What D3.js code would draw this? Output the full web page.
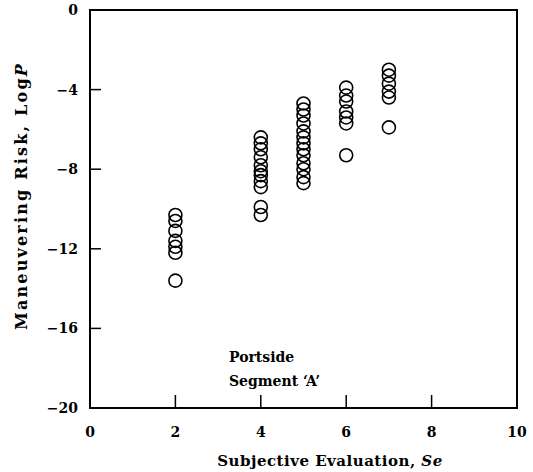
<!DOCTYPE html>
<html><head><meta charset="utf-8">
<script src="https://cdn.jsdelivr.net/npm/d3@7"></script>
<style>body{margin:0;background:#fff}</style>
</head><body>
<svg id="c" width="533" height="472"></svg>
<script>
const se = [2,2,2,2,2,2,2, 4,4,4,4,4,4,4,4,4,4,4, 5,5,5,5,5,5,5,5,5,5,5,5,5, 6,6,6,6,6,6,6, 7,7,7,7,7,7];
const logP = [-10.3,-10.6,-11.1,-11.6,-11.9,-12.2,-13.6,
  -6.4,-6.7,-7.0,-7.4,-7.8,-8.1,-8.3,-8.6,-8.9,-9.9,-10.3,
  -4.7,-5.0,-5.3,-5.7,-6.1,-6.4,-6.7,-7.0,-7.3,-7.7,-8.0,-8.4,-8.7,
  -3.9,-4.3,-4.6,-5.1,-5.4,-5.7,-7.3,
  -3.0,-3.3,-3.7,-4.1,-4.4,-5.9];
const xTicks = [0,2,4,6,8,10];
const yTicks = [0,-4,-8,-12,-16,-20];
const xTitle = ["Subjective Evaluation, ", "Se"];
const yTitle = ["Maneuvering Risk, Log", "P"];
const note = ["Portside", "Segment \u2018A\u2019"];

const svg = d3.select("#c");
const font = "'DejaVu Serif', 'Liberation Serif', serif";
const L=90, R=517, T=10, B=408;
const x = d3.scaleLinear().domain([0,10]).range([L,R]);
const y = d3.scaleLinear().domain([-20,0]).range([B,T]);

// frame
svg.append("rect").attr("x",L).attr("y",T).attr("width",R-L).attr("height",B-T)
  .attr("fill","none").attr("stroke","#000").attr("stroke-width",2);

// inward ticks
svg.append("g").selectAll("line").data(yTicks.filter(d=>d!==0&&d!==-20)).join("line")
  .attr("x1",L).attr("x2",L+11).attr("y1",d=>y(d)).attr("y2",d=>y(d))
  .attr("stroke","#000").attr("stroke-width",1.5);
svg.append("g").selectAll("line").data(xTicks.filter(d=>d!==0&&d!==10)).join("line")
  .attr("x1",d=>x(d)).attr("x2",d=>x(d)).attr("y1",B).attr("y2",B-13)
  .attr("stroke","#000").attr("stroke-width",1.5);

// tick labels
svg.append("g").selectAll("text").data(yTicks).join("text")
  .attr("x",78).attr("y",d=>y(d)+5).attr("text-anchor","end")
  .attr("font-family",font).attr("font-weight","bold").attr("font-size",14)
  .text(d=>d<0?"\u2212"+Math.abs(d):d);
svg.append("g").selectAll("text").data(xTicks).join("text")
  .attr("x",d=>x(d)).attr("y",437).attr("text-anchor","middle")
  .attr("font-family",font).attr("font-weight","bold").attr("font-size",14)
  .text(d=>d);

// titles
const xt = svg.append("text").attr("x",330).attr("y",466).attr("text-anchor","middle")
  .attr("font-family",font).attr("font-weight","bold").attr("font-size",15)
  .attr("letter-spacing",0.5);
xt.append("tspan").text(xTitle[0]);
xt.append("tspan").attr("font-style","italic").text(xTitle[1]);
const yt = svg.append("text").attr("transform","translate(27,196) rotate(-90)").attr("text-anchor","middle")
  .attr("font-family",font).attr("font-weight","bold").attr("font-size",16)
  .attr("letter-spacing",2.2);
yt.append("tspan").text(yTitle[0]);
yt.append("tspan").attr("font-style","italic").text(yTitle[1]);

// note
svg.append("g").selectAll("text").data(note).join("text")
  .attr("x",229).attr("y",(d,i)=>362+i*24)
  .attr("font-family",font).attr("font-weight","bold").attr("font-size",14)
  .text(d=>d);

// points
svg.append("g").selectAll("circle").data(se.map((s,i)=>[s,logP[i]])).join("circle")
  .attr("cx",d=>x(d[0])).attr("cy",d=>y(d[1])).attr("r",6.5)
  .attr("fill","none").attr("stroke","#000").attr("stroke-width",1.6);
</script>
</body></html>
